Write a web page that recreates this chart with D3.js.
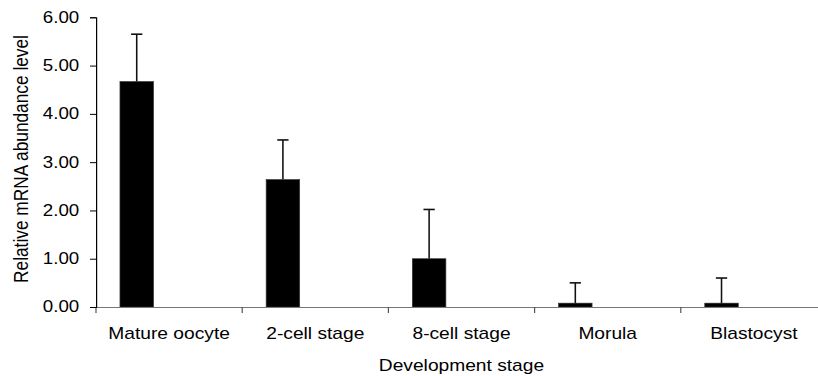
<!DOCTYPE html>
<html>
<head>
<meta charset="utf-8">
<script src="https://cdn.jsdelivr.net/npm/d3@7/dist/d3.min.js"></script>
<style>
  html, body { margin: 0; padding: 0; background: #fff; }
  svg { display: block; }
  text { font-family: "Liberation Sans", Arial, sans-serif; fill: #000; }
</style>
</head>
<body>
<svg id="chart"></svg>
<script>
const categories = ["Mature oocyte", "2-cell stage", "8-cell stage", "Morula", "Blastocyst"];
const means = [4.67, 2.64, 1.00, 0.08, 0.08];
const errors = [0.98, 0.82, 1.02, 0.42, 0.52];
const yTicks = [0, 1, 2, 3, 4, 5, 6];
const xTitle = "Development stage";
const yTitle = "Relative mRNA abundance level";

const W = 818, H = 376;
const S = 1.2; // horizontal stretch of the original picture
const IW = W / S;

const svg = d3.select("#chart")
  .attr("width", W).attr("height", H)
  .attr("viewBox", `0 0 ${IW} ${H}`)
  .attr("preserveAspectRatio", "none");

const x = d3.scaleBand().domain(categories).range([96 / S, 827 / S]).padding(0);
const y = d3.scaleLinear().domain([0, 6]).range([307, 17.3]);

// bars
const bw = x.bandwidth();
const barOff = bw * 0.164, barW = bw * 0.229;
const data = categories.map((c, i) => ({ c, m: means[i], e: errors[i] }));

// error bars
const capW = 9.4;
const eg = svg.append("g").attr("stroke", "#111").attr("fill", "none");
data.forEach(d => {
  const cx = x(d.c) + barOff + barW / 2;
  eg.append("line").attr("x1", cx).attr("x2", cx)
    .attr("y1", y(d.m)).attr("y2", y(d.m + d.e)).attr("stroke-width", 1.3);
  eg.append("line").attr("x1", cx - capW / 2).attr("x2", cx + capW / 2)
    .attr("y1", y(d.m + d.e)).attr("y2", y(d.m + d.e)).attr("stroke-width", 1.6);
});

svg.append("g").selectAll("rect").data(data).join("rect")
  .attr("x", d => x(d.c) + barOff)
  .attr("width", barW)
  .attr("y", d => y(d.m))
  .attr("height", d => y(0) - y(d.m))
  .attr("fill", "#000")
  .attr("stroke", "#333").attr("stroke-width", 0.6);

// x axis
const xa = svg.append("g").attr("transform", `translate(0,${y(0)})`)
  .call(d3.axisBottom(x).tickSize(0).tickPadding(21));
xa.select(".domain").attr("stroke", "#777").attr("stroke-width", 1.2).attr("d", `M${96 / S},0.5H${IW}`);
xa.selectAll("text").attr("font-size", 16).attr("font-family", "Liberation Sans, Arial, sans-serif");
// x tick marks at band boundaries
const bounds = categories.map(c => x(c));
xa.selectAll(".bt").data(bounds).join("line").attr("class", "bt")
  .attr("x1", d => d).attr("x2", d => d).attr("y1", 0).attr("y2", 6)
  .attr("stroke", "#555").attr("stroke-width", 1);

// y axis
const ya = svg.append("g").attr("transform", `translate(${96 / S},0)`)
  .call(d3.axisLeft(y).tickValues(yTicks).tickFormat(d3.format(".2f")).tickSize(5).tickPadding(9));
ya.select(".domain").attr("stroke", "#000").attr("stroke-width", 1);
ya.selectAll(".tick line").attr("stroke", "#000").attr("stroke-width", 1);
ya.selectAll("text").attr("font-size", 15.6).attr("font-family", "Liberation Sans, Arial, sans-serif");

// titles
svg.append("text").attr("x", (96 + 827) / 2 / S).attr("y", 371)
  .attr("text-anchor", "middle").attr("font-size", 16).text(xTitle);
svg.append("text").attr("transform", `translate(${28 / S},159) rotate(-90)`)
  .attr("text-anchor", "middle").attr("font-size", 17.3).text(yTitle);
</script>
</body>
</html>
